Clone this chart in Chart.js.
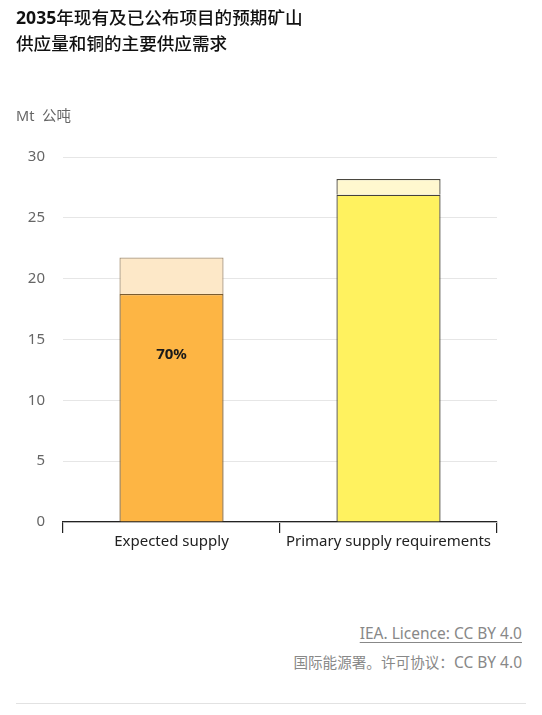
<!DOCTYPE html>
<html>
<head>
<meta charset="utf-8">
<script src="https://cdn.jsdelivr.net/npm/chart.js@4/dist/chart.umd.min.js"></script>
<style>
  html, body { margin: 0; padding: 0; background: #fff; }
  body { width: 542px; height: 715px; position: relative; overflow: hidden;
         font-family: "Noto Sans", "Noto Sans CJK SC", sans-serif; }
  #title { position: absolute; left: 16px; top: 4px; font-size: 17.6px; line-height: 26px;
           color: #111; font-weight: 500; font-family: "Noto Sans CJK SC", "Noto Sans", sans-serif; }
  #title b { font-weight: 700; font-family: "Noto Sans", sans-serif; }
  #unit { position: absolute; left: 16px; top: 104px; font-size: 14.5px; color: #666;
          font-family: "Noto Sans", "Noto Sans CJK SC", sans-serif; }
  #wrap { position: absolute; left: 0; top: 0; width: 542px; height: 560px; }
  .foot { position: absolute; right: 20px; font-size: 15.5px; color: #888; white-space: nowrap; }
  #f1 { top: 622px; text-decoration: underline; text-underline-offset: 3px; }
  #f2 { top: 651px; font-family: "Noto Sans CJK SC", "Noto Sans", sans-serif; font-size: 14.6px; }
  #f2 span { font-family: "Noto Sans", sans-serif; font-size: 15.5px; }
  #rule { position: absolute; left: 16px; width: 510px; top: 703px; height: 1px; background: #e2e2e2; }
</style>
</head>
<body>
<div id="wrap"><canvas id="c"></canvas></div>
<div id="title"><b>2035</b>年现有及已公布项目的预期矿山<br>供应量和铜的主要供应需求</div>
<div id="unit">Mt&nbsp; 公吨</div>
<div class="foot" id="f1">IEA. Licence: CC BY 4.0</div>
<div class="foot" id="f2">国际能源署。许可协议：<span>CC BY 4.0</span></div>
<div id="rule"></div>
<script>
const categories = ["Expected supply", "Primary supply requirements"];
const baseValues = [18.75, 26.9];
const topValues = [3.0, 1.3];
const barLabels = ["70%", ""];
const yTicks = [0, 5, 10, 15, 20, 25, 30];

const labelPlugin = {
  id: 'barLabels',
  afterDatasetsDraw(chart) {
    const meta = chart.getDatasetMeta(0);
    const ctx = chart.ctx;
    ctx.save();
    ctx.font = 'bold 15px "Noto Sans", sans-serif';
    ctx.fillStyle = '#1a1a1a';
    ctx.textAlign = 'center';
    ctx.textBaseline = 'middle';
    meta.data.forEach((bar, i) => {
      if (!barLabels[i]) return;
      ctx.fillText(barLabels[i], bar.x, bar.y + 61);
    });
    ctx.restore();
  }
};

new Chart(document.getElementById('c'), {
  type: 'bar',
  data: {
    labels: categories,
    datasets: [
      {
        label: 'Base',
        data: baseValues,
        backgroundColor: ['#FDB544', '#FFF25F'],
        borderColor: ['#7a5c30', '#45423a'],
        borderWidth: 1.3,
        barPercentage: 0.48,
        categoryPercentage: 1
      },
      {
        label: 'Top',
        data: topValues,
        backgroundColor: ['#FDE8C8', '#FFF8CF'],
        borderColor: ['#a89478', '#4a4840'],
        borderWidth: 1.3,
        barPercentage: 0.48,
        categoryPercentage: 1
      }
    ]
  },
  options: {
    responsive: true,
    maintainAspectRatio: false,
    animation: false,
    layout: { padding: { top: 157, left: 0, right: 45, bottom: 0 } },
    plugins: { legend: { display: false }, tooltip: { enabled: false }, title: { display: false } },
    scales: {
      x: {
        stacked: true,
        offset: true,
        afterFit(s) { s.height = 38; },
        grid: { display: true, offset: true, drawOnChartArea: false, drawTicks: true,
                tickLength: 11, tickColor: '#222', lineWidth: 1.2 },
        border: { display: true, color: '#222', width: 1.2 },
        ticks: { color: '#222', padding: 0, font: { size: 15, family: '"Noto Sans", sans-serif' } }
      },
      y: {
        stacked: true,
        min: 0,
        max: 30,
        afterFit(s) { s.width = 63; },
        afterBuildTicks(s) { s.ticks = yTicks.map(v => ({ value: v })); },
        grid: { color: '#e6e6e6', drawTicks: false, lineWidth: 1 },
        border: { display: false },
        ticks: { color: '#666', padding: 18, font: { size: 15, family: '"Noto Sans", sans-serif' } }
      }
    }
  },
  plugins: [labelPlugin]
});
</script>
</body>
</html>
